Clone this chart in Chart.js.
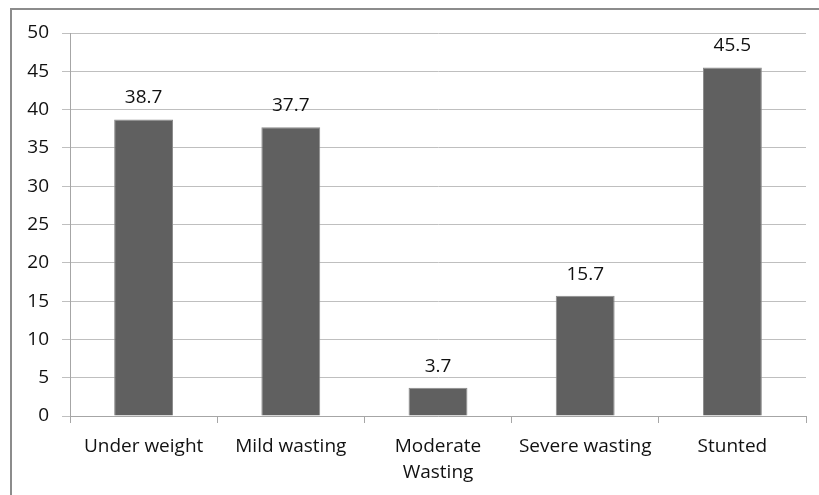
<!DOCTYPE html>
<html>
<head>
<meta charset="utf-8">
<script src="https://cdn.jsdelivr.net/npm/chart.js@4/dist/chart.umd.min.js"></script>
<style>
html,body{margin:0;padding:0;background:#fff;}
#wrap{position:relative;width:819px;height:495px;overflow:hidden;}
#frame{position:absolute;left:10px;top:8px;width:830px;height:520px;border:2px solid #8c8c8c;box-sizing:border-box;}
canvas{position:absolute;left:0;top:0;}
</style>
</head>
<body>
<div id="wrap">
<div id="frame"></div>
<canvas id="grafico" width="819" height="495"></canvas>
</div>
<script>
const categorias = ["Under weight", "Mild wasting", ["Moderate", "Wasting"], "Severe wasting", "Stunted"];
const valores = [38.7, 37.7, 3.7, 15.7, 45.5];
const ticksY = [0, 5, 10, 15, 20, 25, 30, 35, 40, 45, 50];

const fonte = "'Open Sans', 'Noto Sans', sans-serif";

// rotulos de valor acima das barras
const rotulos = {
  id: "rotulos",
  afterDatasetsDraw(chart){
    const ctx = chart.ctx;
    const meta = chart.getDatasetMeta(0);
    ctx.save();
    ctx.font = "19px " + fonte;
    ctx.fillStyle = "#111";
    ctx.textAlign = "center";
    ctx.textBaseline = "bottom";
    meta.data.forEach((barra, i)=>{
      ctx.fillText(valores[i].toFixed(1), barra.x, barra.y - 12);
    });
    ctx.restore();
  }
};

new Chart(
  document.getElementById("grafico"),
  {
    type: "bar",
    data: {
      labels: categorias,
      datasets: [{
        data: valores,
        backgroundColor: "#606060",
        borderColor: "#8a8a8a",
        borderWidth: 1,
        barPercentage: 0.4,
        categoryPercentage: 1
      }]
    },
    options: {
      responsive: false,
      animation: false,
      layout: { padding: { top: 33, right: 13, left: 0, bottom: 0 } },
      plugins: {
        legend: { display: false },
        tooltip: { enabled: false }
      },
      scales: {
        x: {
          afterFit(s){ s.height = 79; },
          border: { color: "#a6a6a6", width: 1 },
          grid: { drawOnChartArea: false, drawTicks: true, tickLength: 7, color: "#a6a6a6", offset: true },
          ticks: { color: "#111", font: { family: fonte, size: 19, lineHeight: 1.35 }, padding: 11, maxRotation: 0, autoSkip: false }
        },
        y: {
          min: 0,
          max: 50,
          afterFit(s){ s.width = 70; },
          afterBuildTicks(s){ s.ticks = ticksY.map(v=>({ value: v })); },
          border: { color: "#a6a6a6", width: 1 },
          grid: { color: "#bfbfbf", tickLength: 8 },
          ticks: { color: "#111", font: { family: fonte, size: 19 }, padding: 13 }
        }
      }
    },
    plugins: [rotulos]
  }
);
</script>
</body>
</html>
